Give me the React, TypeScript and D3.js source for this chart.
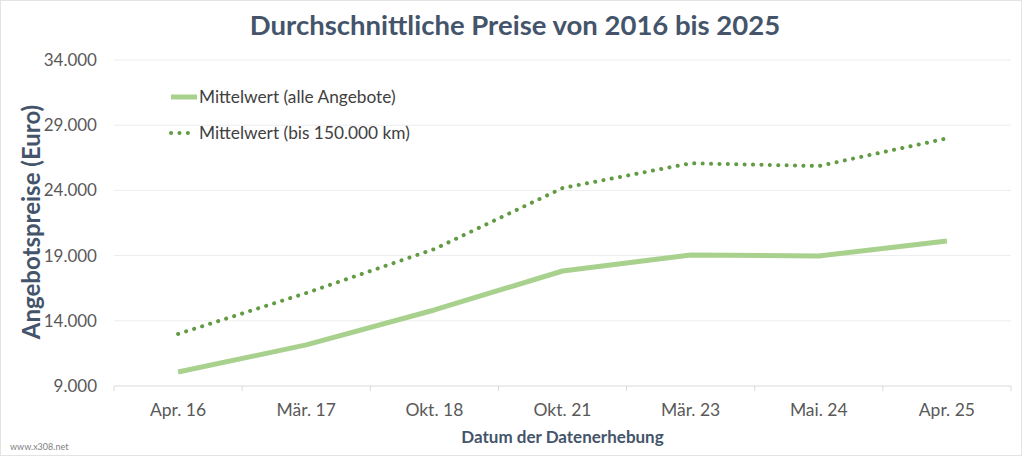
import React from 'react';
import * as d3 from 'd3';

const categories = ['Apr. 16', 'Mär. 17', 'Okt. 18', 'Okt. 21', 'Mär. 23', 'Mai. 24', 'Apr. 25'];
const meanAll = [10070, 12150, 14830, 17820, 19050, 18970, 20120];
const meanUpTo150k = [12990, 16130, 19500, 24180, 26080, 25870, 27990];
const yTicks = [9000, 14000, 19000, 24000, 29000, 34000];

const legendLabels = ['Mittelwert (alle Angebote)', 'Mittelwert (bis 150.000 km)'];

const width = 1024;
const height = 458;
const margin = { top: 60, right: 13, bottom: 72, left: 114 };
const font = 'Lato, "Open Sans", sans-serif';

const App: React.FC = () => {
  const x = d3
    .scaleBand<string>()
    .domain(categories)
    .range([margin.left, width - margin.right]);

  const y = d3
    .scaleLinear()
    .domain([9000, 34000])
    .range([height - margin.bottom, margin.top]);

  const line = d3
    .line<number>()
    .x((_, i) => (x(categories[i]) as number) + x.bandwidth() / 2)
    .y(d => y(d));

  const fmt = (v: number) => d3.format(',')(v).replace(/,/g, '.');
  const bottom = y(9000);
  const boundaries = categories.map(c => x(c) as number).concat([width - margin.right]);

  return (
    <svg
      width={width}
      height={height}
      style={{ position: 'absolute', left: 0, top: 0, display: 'block', background: '#fff' }}
    >
      <rect x={0.5} y={0.5} width={width - 3} height={height - 3} fill="#fff" stroke="#e3e3e3" />

      <text x={515} y={35} textAnchor="middle" fontFamily={font} fontWeight={700} fontSize={27.5} fill="#44546a">
        Durchschnittliche Preise von 2016 bis 2025
      </text>

      {/* Gridlines */}
      {yTicks.map(t => (
        <line
          key={t}
          x1={margin.left}
          x2={width - margin.right}
          y1={y(t)}
          y2={y(t)}
          stroke={t === 9000 ? '#d9d9d9' : '#ededed'}
          strokeWidth={1}
        />
      ))}
      {boundaries.map((b, i) => (
        <line key={i} x1={b} x2={b} y1={bottom} y2={bottom + 5} stroke="#d9d9d9" />
      ))}

      {/* Y tick labels */}
      {yTicks.map(t => (
        <text
          key={t}
          x={97}
          y={y(t)}
          dy="0.35em"
          textAnchor="end"
          fontFamily={font}
          fontSize={17}
          fill="#595959"
        >
          {fmt(t)}
        </text>
      ))}

      {/* X labels */}
      {categories.map(c => (
        <text
          key={c}
          x={(x(c) as number) + x.bandwidth() / 2}
          y={bottom + 30}
          textAnchor="middle"
          fontFamily={font}
          fontSize={17.5}
          fill="#595959"
        >
          {c}
        </text>
      ))}

      <text
        x={(margin.left + width - margin.right) / 2}
        y={443}
        textAnchor="middle"
        fontFamily={font}
        fontWeight={700}
        fontSize={17}
        fill="#44546a"
      >
        Datum der Datenerhebung
      </text>

      <text
        transform={`translate(40, 222) rotate(-90)`}
        textAnchor="middle"
        fontFamily={font}
        fontWeight={700}
        fontSize={24}
        fill="#44546a"
      >
        Angebotspreise (Euro)
      </text>

      {/* Series */}
      <path d={line(meanAll) || ''} fill="none" stroke="#a9d18e" strokeWidth={5} strokeLinejoin="round" />
      <path
        d={line(meanUpTo150k) || ''}
        fill="none"
        stroke="#629b43"
        strokeWidth={4}
        strokeLinecap="round"
        strokeDasharray="0.1 8.3"
      />

      {/* Legend */}
      <line x1={171} x2={197} y1={97} y2={97} stroke="#a9d18e" strokeWidth={5} />
      <text x={199} y={97} dy="0.35em" fontFamily={font} fontSize={17.3} fill="#404040">
        {legendLabels[0]}
      </text>
      <line
        x1={171}
        x2={193}
        y1={133}
        y2={133}
        stroke="#629b43"
        strokeWidth={4}
        strokeLinecap="round"
        strokeDasharray="0.1 8.3"
      />
      <text x={199} y={133} dy="0.35em" fontFamily={font} fontSize={17.3} fill="#404040">
        {legendLabels[1]}
      </text>

      <text x={10} y={450} fontFamily={font} fontSize={9} fill="#7f7f7f">
        www.x308.net
      </text>
    </svg>
  );
};

export default App;
